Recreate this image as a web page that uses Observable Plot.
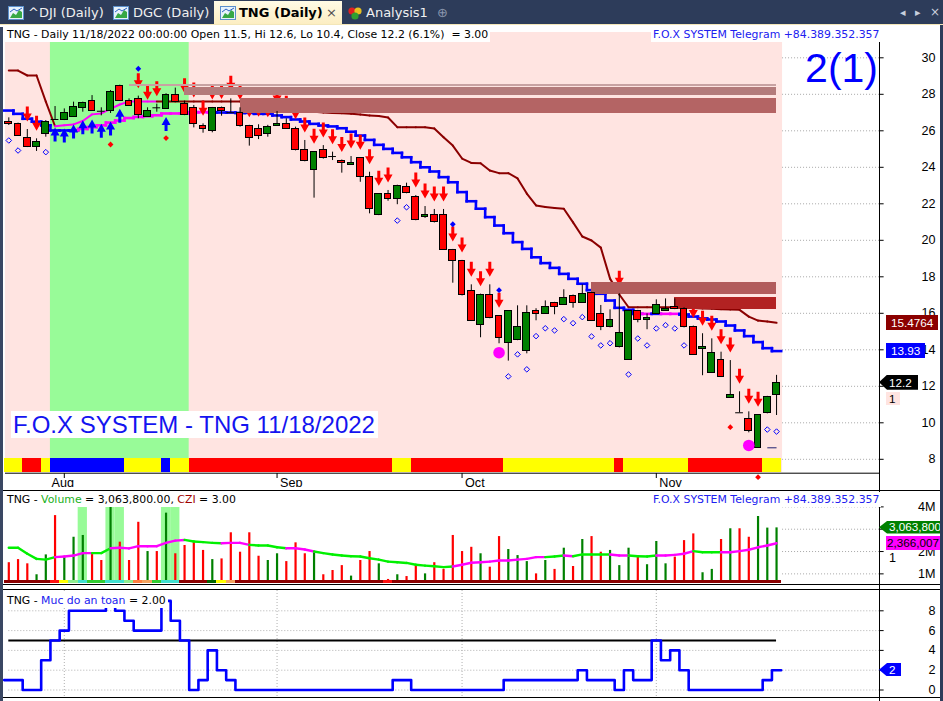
<!DOCTYPE html>
<html>
<head>
<meta charset="utf-8">
<script src="https://cdn.jsdelivr.net/npm/d3@7"></script>
<script src="https://cdn.jsdelivr.net/npm/@observablehq/plot@0.6"></script>
<style>
  html,body{margin:0;padding:0;}
  body{width:943px;height:701px;position:relative;overflow:hidden;background:#fff;font-family:"Liberation Sans",Arial,sans-serif;}
  .a{position:absolute;}
  #tabbar{left:0;top:0;width:943px;height:25px;background:#2d3c5a;}
  .tabt{position:absolute;top:0;font-family:"DejaVu Sans",sans-serif;font-size:13px;line-height:25px;color:#f0f0f0;white-space:nowrap;}
  .hdr{position:absolute;font-family:"DejaVu Sans",sans-serif;font-size:10.9px;line-height:15px;white-space:nowrap;background:#fff;padding:0 2px;color:#000;}
  .tag{position:absolute;font-family:"Liberation Sans",Arial,sans-serif;font-size:11.7px;white-space:nowrap;box-sizing:border-box;}
  .pane{position:absolute;left:0;}
  .line{position:absolute;background:#000;}
</style>
</head>
<body>
<div id="tabbar" class="a">
  <svg class="a" style="left:8px;top:6px" width="16" height="14"><rect x="0.5" y="0.5" width="15" height="13" fill="#e6f2fb" stroke="#5b8fcb"/><path d="M2 12 L5 7 L8 9 L11 4 L14 6 L14 12Z" fill="#37a845"/><path d="M2 6 L6 3 L9 5 L14 2" stroke="#2a5fc0" fill="none"/></svg>
  <div class="tabt" style="left:28px">^DJI (Daily)</div>
  <svg class="a" style="left:113px;top:6px" width="16" height="14"><rect x="0.5" y="0.5" width="15" height="13" fill="#e6f2fb" stroke="#5b8fcb"/><path d="M2 12 L5 7 L8 9 L11 4 L14 6 L14 12Z" fill="#37a845"/><path d="M2 6 L6 3 L9 5 L14 2" stroke="#2a5fc0" fill="none"/></svg>
  <div class="tabt" style="left:133px">DGC (Daily)</div>
  <div class="a" style="left:214px;top:1px;width:128px;height:24px;background:linear-gradient(#fffbe6,#fcedc0);"></div>
  <svg class="a" style="left:220px;top:6px" width="16" height="14"><rect x="0.5" y="0.5" width="15" height="13" fill="#e6f2fb" stroke="#5b8fcb"/><path d="M2 12 L5 7 L8 9 L11 4 L14 6 L14 12Z" fill="#37a845"/><path d="M2 6 L6 3 L9 5 L14 2" stroke="#2a5fc0" fill="none"/></svg>
  <div class="tabt" style="left:239px;color:#000;font-weight:bold">TNG (Daily)</div>
  <div class="tabt" style="left:326px;color:#505050">×</div>
  <svg class="a" style="left:347px;top:5px" width="16" height="16"><circle cx="5" cy="6" r="3.6" fill="#e02020"/><circle cx="11" cy="6" r="3.6" fill="#e8c020"/><circle cx="8" cy="11" r="3.6" fill="#30a030"/></svg>
  <div class="tabt" style="left:366px">Analysis1</div>
  <div class="tabt" style="left:437px;color:#8a96ad">⊕</div>
  <div class="tabt" style="left:900px;color:#c8cfdc;font-size:11px">◂</div>
  <div class="tabt" style="left:915px;color:#c8cfdc;font-size:11px">▸</div>
  <div class="tabt" style="left:930px;color:#c8cfdc;font-size:12px">×</div>
</div>
<div class="a" style="left:0;top:24px;width:943px;height:3px;background:#f3e6b8;"></div>

<div id="mainPane" class="pane" style="top:25px"></div>
<div id="volPane" class="pane" style="top:487px"></div>
<div id="safePane" class="pane" style="top:587px"></div>

<script>
// ======================= DATA =======================
const nBars = 84;                       // 22 Jul 2022 .. 18 Nov 2022, daily
const monthTicks  = [6, 29, 49, 70];    // first bar of each month
const monthLabelBars = [4.3, 29, 49, 70];
const monthLabels = ["Aug", "Sep", "Oct", "Nov"];

const open  = [26.49,26.38,25.62,25.10,25.84,26.62,26.58,26.78,27.26,27.64,27.07,27.10,28.47,27.64,27.75,26.77,27.26,27.20,27.97,27.48,
               27.26,26.29,25.98,27.26,26.99,26.99,26.27,26.11,25.81,26.27,26.38,26.11,24.96,23.86,24.96,24.59,24.36,24.14,24.52,23.48,
               21.40,22.51,22.24,22.91,22.40,21.25,21.41,21.36,19.48,18.88,17.23,15.37,17.01,15.86,14.38,14.55,13.95,16.14,15.97,16.58,
               16.47,16.96,16.58,17.12,15.97,15.26,14.16,13.45,16.14,15.64,15.97,16.14,16.36,16.25,15.26,14.05,12.74,13.45,11.37,10.55,
               10.22,8.63,10.55,11.50];
const high  = [26.71,26.42,26.07,25.56,26.56,27.33,27.20,27.57,27.57,27.93,27.26,28.21,28.50,27.75,27.90,27.26,27.46,28.03,28.34,27.62,
               27.39,26.38,27.28,27.30,27.75,27.26,26.30,26.33,26.30,27.06,26.66,26.20,25.47,24.85,25.19,24.83,24.40,24.59,24.52,23.73,
               22.55,22.73,23.02,23.13,22.45,21.85,21.69,21.69,19.50,18.90,17.56,17.05,17.56,15.86,16.14,16.41,16.41,16.25,16.68,16.60,
               17.29,17.00,17.56,17.15,16.43,16.19,17.07,16.16,16.16,15.97,16.74,16.79,16.79,16.30,15.30,14.88,14.60,13.87,13.41,11.70,
               10.60,10.44,11.45,12.60];
const low   = [26.29,25.70,25.08,24.87,25.65,26.62,26.56,26.78,27.02,27.06,26.82,26.95,27.64,27.35,26.66,26.75,27.02,27.20,27.55,26.83,
               26.16,25.87,25.89,26.80,26.99,26.20,25.16,25.52,25.65,26.25,26.08,24.90,24.30,22.31,24.45,24.37,23.68,24.10,23.18,21.45,
               21.35,22.14,21.95,22.55,21.07,21.20,20.95,19.45,17.65,16.95,15.55,14.66,15.70,14.33,13.38,14.50,13.78,15.59,15.95,15.92,
               16.45,16.28,16.55,15.55,15.05,15.20,14.10,13.43,15.48,15.10,15.95,16.12,16.20,15.20,13.70,12.58,12.70,12.48,11.35,10.55,
               9.45,8.60,10.49,10.40];
const close = [26.36,25.74,25.10,25.40,26.49,26.62,26.99,27.28,27.50,27.10,27.07,28.14,27.66,27.37,26.85,27.10,27.26,27.97,27.60,26.85,
               26.38,26.11,27.26,27.10,26.99,26.28,25.62,25.70,26.22,26.40,26.11,24.96,24.36,24.83,24.52,24.59,24.25,24.26,23.48,21.70,
               22.51,22.27,23.00,22.60,21.12,21.36,20.99,19.48,18.88,17.01,15.59,17.01,15.75,14.66,16.14,15.26,16.03,15.97,16.36,16.36,
               16.85,16.58,17.07,15.59,15.26,15.64,14.93,16.14,15.64,15.75,16.47,16.25,16.25,15.26,13.73,14.16,13.84,12.52,11.53,10.55,
               9.56,10.44,11.42,12.20];

// stepped trend line (blue / magenta) and trailing line (maroon / magenta)
const trendLine = [27.11,26.93,26.66,26.50,26.30,26.02,26.02,26.02,26.10,26.20,26.30,26.45,26.56,26.70,26.76,26.80,26.85,26.95,26.95,26.95,
                   27.02,27.02,27.02,27.00,27.00,26.98,26.98,26.93,26.93,26.84,26.75,26.62,26.51,26.38,26.29,26.24,26.14,25.95,25.74,25.50,
                   25.23,25.01,24.79,24.55,24.28,24.00,23.77,23.46,23.18,22.64,22.14,21.73,21.27,20.81,20.39,19.90,19.53,19.07,18.75,18.49,
                   18.16,17.89,17.62,17.27,17.07,16.70,16.30,16.19,15.97,15.97,15.97,15.97,15.97,15.93,15.82,15.72,15.66,15.55,15.33,15.06,
                   14.75,14.42,14.09,13.93];
const trendColorRuns = [["B",8],["M",15],["B",46],["M",1],["B",1],["M",2],["B",11]];
const trailLine = [29.30,29.30,29.03,29.03,27.60,26.25,26.30,26.35,26.54,26.90,26.95,27.20,27.44,27.60,27.60,27.60,27.60,27.60,27.60,27.60,
                   27.60,27.60,27.60,27.60,27.60,27.60,27.60,27.50,27.50,27.40,27.30,27.20,27.10,27.05,27.00,26.98,26.96,26.93,26.89,26.84,
                   26.81,26.73,26.20,26.20,26.20,26.19,26.13,25.65,25.19,24.48,24.24,24.22,23.82,23.68,23.68,23.39,22.56,21.91,21.82,21.77,
                   21.73,20.98,20.21,19.99,19.60,17.90,17.03,16.33,16.33,16.33,16.33,16.33,16.33,16.33,16.29,16.26,16.25,16.22,16.21,16.19,
                   15.82,15.60,15.55,15.48];
const trailColorRuns = [["D",5],["M",11],["D",68]];

// signals
const sellArrowBars = [2,3,14,15,16,19,20,21,22,23,24,25,26,27,28,29,30,31,32,33,34,35,36,37,38,39,40,41,
                       44,45,46,47,48,49,50,51,52,53,66,74,75,76,77,78,79,80,81];
const buyArrowBars  = [5,6,7,8,9,10,11,12,17];
const hollowDiamonds = [[0,25.47],[1,24.92],[4,24.83],[42,21.08],[43,21.81],[54,12.54],[55,13.75],[56,12.93],[57,14.75],
                        [58,15.18],[59,15.06],[60,15.68],[61,15.46],[62,15.79],[63,14.73],[64,14.24],[65,14.36],[67,12.65],
                        [68,14.62],[69,14.24],[70,15.17],[71,15.35],[72,15.17],[73,14.24],[82,9.63],[83,9.52]];
const blueDiamonds = [[14,29.40],[48,20.88],[53,17.27]];
const redDiamonds  = [[11,25.25],[17,25.60],[78,9.76],[81,7.02]];
const magentaDots  = [[53,13.84],[80,8.76]];
const stopLines    = [[82,83,8.63]];

// resistance zones: [fromBar, toBar, low, high]
const zones = [[13,83,28.45,28.51],[19,83,27.93,28.39],[25,83,26.96,27.77],[63,83,17.05,17.69],[72,83,16.21,16.87]];
const greenZones = [[5,19]];
const stripRuns = [["Y",2],["R",2],["Y",1],["B",8],["Y",4],["B",1],["Y",2],["R",22],["Y",2],["R",10],["Y",12],["R",1],["Y",7],["R",8],["Y",2]];

const priceTicks = [8,10,12,14,16,18,20,22,24,26,28,30];
const lastTrail = 15.4764, lastTrend = 13.93, lastClose = 12.2;

// volume (millions)
const volume = [1.50,1.64,1.45,0.96,1.85,3.61,1.78,2.64,2.72,1.90,1.60,3.99,2.42,1.60,3.31,2.00,2.00,3.72,1.90,2.27,
                2.45,2.05,1.64,1.67,2.84,1.97,2.84,1.79,1.60,1.90,1.55,2.39,1.90,1.97,0.96,1.15,1.37,0.90,1.60,2.00,
                1.45,0.75,0.96,0.88,1.37,1.00,1.50,1.20,2.72,2.00,2.19,1.90,1.30,2.67,2.09,1.82,1.55,1.00,1.60,1.20,
                2.15,1.33,2.54,2.67,1.97,2.05,1.37,2.15,1.82,1.41,2.45,1.45,1.75,2.49,2.79,1.05,1.20,2.54,3.02,3.02,
                2.64,3.57,3.05,3.06];
const volumeMA = [2.17,2.17,1.90,1.67,1.64,1.75,1.78,1.82,1.93,1.93,1.93,2.15,2.17,2.14,2.24,2.24,2.24,2.39,2.49,2.52,
                  2.45,2.42,2.39,2.37,2.39,2.39,2.30,2.27,2.27,2.19,2.15,2.15,2.09,2.00,1.93,1.87,1.82,1.79,1.78,1.70,
                  1.64,1.55,1.52,1.49,1.41,1.37,1.34,1.30,1.33,1.41,1.50,1.52,1.55,1.60,1.60,1.64,1.67,1.75,1.75,1.78,
                  1.82,1.79,1.87,1.87,1.87,1.87,1.82,1.82,1.79,1.78,1.82,1.82,1.85,1.90,2.02,1.97,1.97,1.97,1.97,2.02,
                  2.08,2.19,2.27,2.37];
const volumeMAColorRuns = [["G",5],["M",4],["G",2],["M",8],["G",4],["M",3],["G",4],["M",3],["G",15],["M",10],["G",2],["M",1],["G",4],["M",2],["G",3],["M",4],["G",3],["M",7]];
const volumeHighlightBars = [8,11,12,17,18];
const volumeStripRuns = [["D",5],["R",1],["Y",1],["L",1],["T",1],["G",2],["T",2],["L",1],["C",1],["S",1],["G",1],["T",2],["D",3],["K",1],["Y",1],["S",1],["D",16],["R",1],["D",42]];
const volumeTicks = [1,2,3,4];
const volumeTickLabels = ["1M","2M","3M","4M"];
const lastVolume = 3.0638, lastVolumeMA = 2.366007;

// "Muc do an toan" (safety level)
const safety = [1,1,0,0,3,5,6,8,8,8,8,9,8,7,6,6,6,9,7,5,0,1,4,2,1,
                0,0,0,0,0,0,0,0,0,0,0,0,0,0,0,0,0,1,1,0,0,0,0,0,0,0,0,0,0,
                1,1,1,1,1,1,1,1,2,1,1,1,0,2,1,1,5,3,4,2,0,0,0,0,0,0,0,0,1,2];
const safetyThreshold = 5;
const safetyTicks = [0,2,4,6,8];

// ======================= STYLE / LAYOUT =======================
const W = 943, ML = 5, MR = 64;
const xDomain = [-0.357, 94.13];
const xEnd = 83.65;
const MAIN = {top: 25, h: 462, dom: [6.455, 31.77]};
const VOL  = {top: 487, h: 100, dom: [0.3896, 4.868]};
const SAFE = {top: 587, h: 114, dom: [-1.1616, 10.354]};
const pxVal = (P, py) => P.dom[1] - (py - P.top) / P.h * (P.dom[1] - P.dom[0]);
const mv = py => pxVal(MAIN, py), vv = py => pxVal(VOL, py), sv = py => pxVal(SAFE, py);
const FONT = "'Liberation Sans', Arial, sans-serif";
const rle = runs => runs.flatMap(([c, n]) => Array(n).fill(c));
const bars = d3.range(nBars);

const stripColor = {Y: "#FFFF00", R: "#FF0000", B: "#0000FF"};
const lineColor = {B: "#0000FF", M: "#FF00FF", D: "#8B0000", G: "#00F000"};
const volStripColor = {D: "#8B0000", R: "#FF1010", Y: "#FFFF00", L: "#90EE90", T: "#40E0D0", G: "#32CD32", C: "#FF7F40", S: "#F4A460", K: "#006400"};
const zoneColor = ["#C8A2A2", "#B47B7B", "#B46464", "#B25C5C", "#B22222"];

const mainStrip = rle(stripRuns);
const trendCol = rle(trendColorRuns);
const trailCol = rle(trailColorRuns);
const volMACol = rle(volumeMAColorRuns);
const volStrip = rle(volumeStripRuns);

const candles = bars.map(i => ({i, o: open[i], h: high[i], l: low[i], c: close[i]}));

// segments for coloured lines
const stairSegs = (vals, cols) => {
  const s = [];
  vals.forEach((v, i) => {
    s.push({x1: i - 0.5, x2: i + 0.5, y1: v, y2: v, c: cols[i]});
    if (i < vals.length - 1) s.push({x1: i + 0.5, x2: i + 0.5, y1: v, y2: vals[i + 1], c: cols[i + 1]});
  });
  return s;
};
const lineSegs = (vals, cols) => vals.slice(0, -1).map((v, i) => ({x1: i, x2: i + 1, y1: v, y2: vals[i + 1], c: cols[i]}));

const arrowDown = {draw(ctx) {
  ctx.moveTo(0, 0); ctx.lineTo(-4.5, -8); ctx.lineTo(-1.5, -8); ctx.lineTo(-1.5, -15);
  ctx.lineTo(1.5, -15); ctx.lineTo(1.5, -8); ctx.lineTo(4.5, -8); ctx.closePath();
}};
const arrowUp = {draw(ctx) {
  ctx.moveTo(0, 0); ctx.lineTo(-4.5, 8); ctx.lineTo(-1.5, 8); ctx.lineTo(-1.5, 14);
  ctx.lineTo(1.5, 14); ctx.lineTo(1.5, 8); ctx.lineTo(4.5, 8); ctx.closePath();
}};

const base = (h, dom) => ({
  width: W, height: h, marginLeft: ML, marginRight: MR, marginTop: 0, marginBottom: 0,
  x: {domain: xDomain, axis: null},
  y: {domain: dom, axis: null},
  style: {fontFamily: FONT, overflow: "visible", background: "#fff"}
});
const axisMarks = (ticks, labels) => [
  Plot.ruleY(ticks, {x1: xDomain[1], x2: xDomain[1] + 0.5, stroke: "#000"}),
  Plot.text(ticks, {y: d => d, text: (d, i) => labels ? labels[i] : String(d), frameAnchor: "right", dx: 56,
                    textAnchor: "end", fontSize: 12.6, fill: "#000"})
];

// ======================= MAIN PRICE PANE =======================
const main = Plot.plot({
  ...base(MAIN.h, MAIN.dom),
  marks: [
    Plot.ruleY(priceTicks, {x1: xEnd, x2: xDomain[1], stroke: "#a8a8a8", strokeDasharray: "1,2"}),
    Plot.rect([0], {x1: -0.37, x2: xEnd, y1: mv(472), y2: mv(32), fill: "#FFE4E1"}),
    Plot.rect(greenZones, {x1: d => d[0] - 0.5, x2: d => d[1] + 0.5, y1: mv(458), y2: mv(32), fill: "#98FB98"}),
    Plot.rect(bars, {x1: i => i - 0.5, x2: i => i + 0.5, y1: mv(472), y2: mv(458), fill: i => stripColor[mainStrip[i]], shapeRendering: "crispEdges"}),
    Plot.ruleY([mv(472.7)], {x1: xDomain[0], x2: xDomain[1], stroke: "#000"}),
    Plot.ruleX(monthTicks, {y1: mv(473), y2: mv(478), stroke: "#000"}),
    Plot.text(monthLabelBars, {x: d => d, y: mv(486), text: (d, i) => monthLabels[i], textAnchor: "start", lineAnchor: "bottom",
                           dx: 3, fontSize: 12.6, fill: "#000"}),
    Plot.link(lineSegs(trailLine, trailCol), {x1: "x1", y1: "y1", x2: "x2", y2: "y2", stroke: d => lineColor[d.c], strokeWidth: 2, strokeLinecap: "round"}),
    Plot.link(stairSegs(trendLine, trendCol), {x1: "x1", y1: "y1", x2: "x2", y2: "y2", stroke: d => lineColor[d.c], strokeWidth: 2.6, strokeLinecap: "square"}),
    Plot.dot(sellArrowBars, {x: i => i, y: i => high[i], symbol: arrowDown, r: 1, fill: "#FF0000", stroke: "none", dy: -8}),
    Plot.dot(buyArrowBars, {x: i => i, y: i => low[i], symbol: arrowUp, r: 1, fill: "#0000FF", stroke: "none", dy: 8}),
    Plot.rect(zones, {x1: d => d[0], x2: d => d[1], y1: d => d[2], y2: d => d[3], fill: (d, i) => zoneColor[i], shapeRendering: "crispEdges"}),
    Plot.ruleX(candles, {x: "i", y1: "l", y2: "h", stroke: "#000", strokeWidth: 1}),
    Plot.rect(candles.filter(d => d.o !== d.c), {x1: d => d.i - 0.37, x2: d => d.i + 0.37, y1: "o", y2: "c",
              fill: d => d.c > d.o ? "#008000" : "#FF0000", stroke: "#000", strokeWidth: 1, shapeRendering: "crispEdges"}),
    Plot.ruleY(candles.filter(d => d.o === d.c), {y: "o", x1: d => d.i - 0.42, x2: d => d.i + 0.42, stroke: "#000"}),
    Plot.dot(hollowDiamonds, {x: d => d[0], y: d => d[1], symbol: "diamond2", r: 2.5, stroke: "#0000FF", fill: "none", strokeWidth: 1}),
    Plot.dot(blueDiamonds, {x: d => d[0], y: d => d[1], symbol: "diamond2", r: 2.6, fill: "#0000FF", stroke: "none"}),
    Plot.dot(redDiamonds, {x: d => d[0], y: d => d[1], symbol: "diamond2", r: 2.6, fill: "#FF0000", stroke: "none"}),
    Plot.dot(magentaDots, {x: d => d[0], y: d => d[1], r: 5.8, fill: "#FF00FF", stroke: "none"}),
    Plot.link(stopLines, {x1: d => d[0], x2: d => d[1], y1: d => d[2], y2: d => d[2], stroke: "#202070", strokeWidth: 1}),
    ...axisMarks(priceTicks)
  ]
});
document.getElementById("mainPane").appendChild(main);

// ======================= VOLUME PANE =======================
const vol = Plot.plot({
  ...base(VOL.h, VOL.dom),
  marks: [
    Plot.rect(volumeHighlightBars, {x1: i => i - 0.5, x2: i => i + 0.5, y1: vv(580), y2: vv(506.7), fill: "#98FB98"}),
    Plot.ruleY(volumeTicks, {x1: xEnd, x2: xDomain[1], stroke: "#a8a8a8", strokeDasharray: "1,2"}),
    Plot.ruleX(bars, {x: i => i, y1: vv(583), y2: i => volume[i], stroke: i => close[i] > open[i] ? "#008000" : "#FF0000", strokeWidth: 2.2}),
    Plot.link(lineSegs(volumeMA, volMACol), {x1: "x1", y1: "y1", x2: "x2", y2: "y2", stroke: d => lineColor[d.c], strokeWidth: 2.4, strokeLinecap: "round"}),
    Plot.rect(bars, {x1: i => i - 0.5, x2: i => i + 0.5, y1: vv(583.4), y2: vv(580), fill: i => volStripColor[volStrip[i]], shapeRendering: "crispEdges"}),
    ...axisMarks(volumeTicks, volumeTickLabels)
  ]
});
document.getElementById("volPane").appendChild(vol);

// ======================= SAFETY PANE =======================
const stepPts = bars.map(i => ({x: i - 0.5, y: safety[i]})).concat([{x: nBars - 0.5, y: safety[nBars - 1]}]);
const safe = Plot.plot({
  ...base(SAFE.h, SAFE.dom),
  marks: [
    Plot.ruleY(safetyTicks, {x1: 0, x2: xDomain[1], stroke: "#b0b0b0", strokeDasharray: "1,2"}),
    Plot.ruleX(monthTicks, {y1: sv(590), y2: sv(697), stroke: "#b0b0b0", strokeDasharray: "1,2"}),
    Plot.ruleY([safetyThreshold], {x1: 0, x2: nBars - 1, stroke: "#000", strokeWidth: 2.2}),
    Plot.line(stepPts, {x: "x", y: "y", curve: "step-after", stroke: "#0000FF", strokeWidth: 2.6}),
    ...axisMarks(safetyTicks)
  ]
});
document.getElementById("safePane").appendChild(safe);

// ======================= OVERLAYS (text, tags, frame) =======================
const body = document.body;
function el(html, style, cls) {
  const d = document.createElement("div");
  if (cls) d.className = cls;
  d.innerHTML = html;
  Object.assign(d.style, {position: "absolute"}, style);
  body.appendChild(d);
  return d;
}
// pane frame lines
el("", {left: "3px", top: "490px", width: "937px", height: "1px"}, "line");
el("", {left: "3px", top: "584px", width: "937px", height: "1px"}, "line");
el("", {left: "3px", top: "589px", width: "937px", height: "1px"}, "line");
el("", {left: "3px", top: "697px", width: "937px", height: "1px"}, "line");
el("", {left: "878.5px", top: "27px", width: "1px", height: "674px"}, "line");

// headers
el("TNG - Daily 11/18/2022 00:00:00 Open 11.5, Hi 12.6, Lo 10.4, Close 12.2 (6.1%)&nbsp;&nbsp;= 3.00", {left: "5px", top: "27px"}, "hdr");
el("F.O.X SYSTEM Telegram +84.389.352.357", {left: "651px", top: "27px", color: "#2020F0"}, "hdr");
el('TNG - <span style="color:#20B020">Volume</span> = 3,063,800.00, <span style="color:#A00000">CZI</span> = 3.00', {left: "5px", top: "492px"}, "hdr");
el("F.O.X SYSTEM Telegram +84.389.352.357", {left: "651px", top: "492px", color: "#2020F0"}, "hdr");
el('TNG - <span style="color:#2020F0">Muc do an toan</span> = 2.00', {left: "5px", top: "592.5px"}, "hdr");

// big labels
el("2(1)", {left: "760px", width: "118px", top: "48px", textAlign: "right", fontFamily: FONT, fontSize: "41px", lineHeight: "41px", color: "#0000FF"});
el("F.O.X SYSTEM - TNG 11/18/2022", {left: "11px", top: "410.7px", fontFamily: FONT, fontSize: "24px", lineHeight: "27px", color: "#1414F0", background: "#fff", padding: "0 3px 0 2px", whiteSpace: "nowrap"});

// value tags, positioned with the plots' own scales
const yMain = v => MAIN.top + main.scale("y").apply(v);
const yVol  = v => VOL.top + vol.scale("y").apply(v);
const ySafe = v => SAFE.top + safe.scale("y").apply(v);
function tag(text, left, w, yc, bg, fg, arrow, h = 15) {
  const d = el(text, {left: left + "px", top: (yc - h / 2) + "px", width: w + "px", height: h + "px", lineHeight: h + "px",
                      background: bg, color: fg, paddingLeft: (arrow ? 10 : 5) + "px"}, "tag");
  if (arrow) d.style.clipPath = "polygon(0 50%, 8px 0, 100% 0, 100% 100%, 8px 100%)";
  return d;
}
tag("15.4764", 886, 52, yMain(lastTrail), "#8B0000", "#fff", false);
tag("13.93", 886, 39, yMain(lastTrend), "#0000FF", "#fff", false);
tag("12.2", 879, 39, yMain(lastClose), "#000", "#fff", true);
tag("1", 886, 14, yMain(lastClose) + 16, "#FFE4E1", "#000", false, 13).style.paddingLeft = "3px";
tag("3,063,800", 879, 64, yVol(lastVolume), "#008000", "#fff", true, 12.5);
tag("2,366,007", 886, 57, yVol(lastVolumeMA), "#FF00FF", "#000", false, 13.5).style.paddingLeft = "1px";
el("1", {left: "889px", top: "551px", fontFamily: FONT, fontSize: "12.6px", lineHeight: "14px", color: "#000"});
tag("2", 879, 22, ySafe(safety[nBars - 1]), "#0000FF", "#fff", true, 13.5);

// window borders
el("", {left: "0", top: "27px", width: "3px", height: "674px", background: "#3a4763"});
el("", {left: "939.5px", top: "25px", width: "4px", height: "676px", background: "#2d3c5a"});
</script>
</body>
</html>
